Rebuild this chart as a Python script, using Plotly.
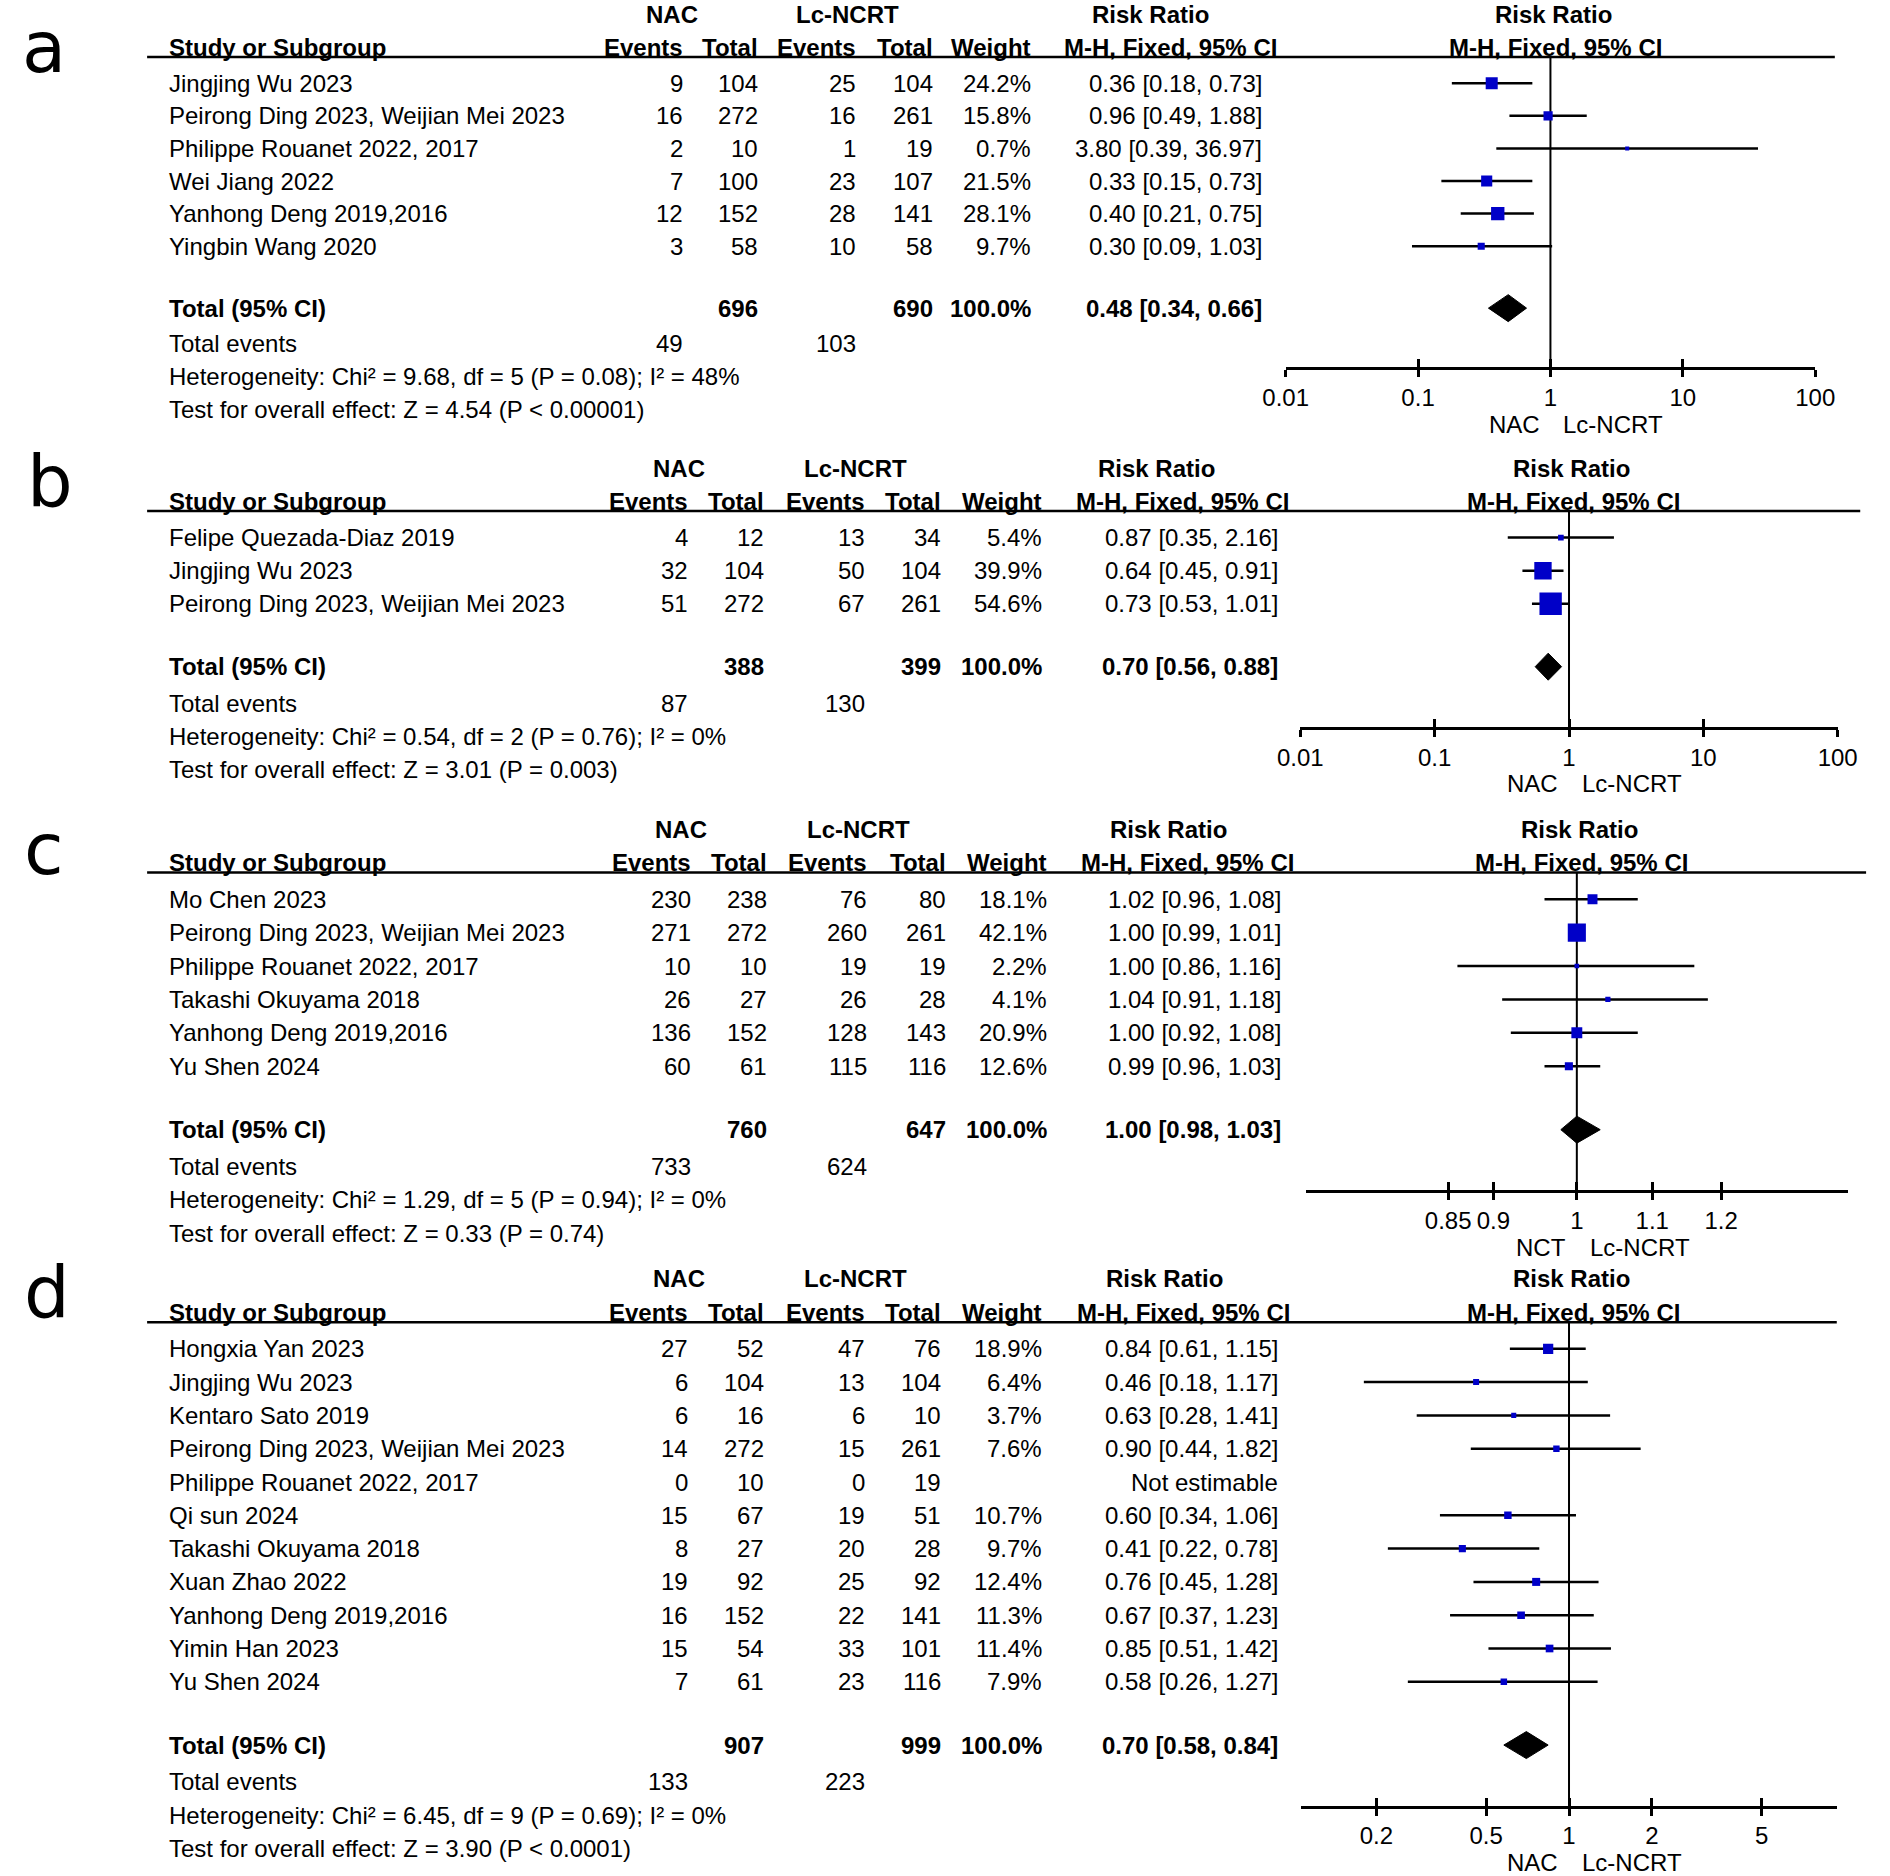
import plotly.graph_objects as go

W, H = 1890, 1876
FONT = "Liberation Sans, Arial, Helvetica, sans-serif"
FS = 24
BLUE = "#0000C8"

# ------------------------------------------------------------------ data
studies_a = ["Jingjing Wu 2023", "Peirong Ding 2023, Weijian Mei 2023",
             "Philippe Rouanet 2022, 2017", "Wei Jiang 2022",
             "Yanhong Deng 2019,2016", "Yingbin Wang 2020"]
nac_events_a = [9, 16, 2, 7, 12, 3]
nac_total_a = [104, 272, 10, 100, 152, 58]
lc_events_a = [25, 16, 1, 23, 28, 10]
lc_total_a = [104, 261, 19, 107, 141, 58]
weight_a = [24.2, 15.8, 0.7, 21.5, 28.1, 9.7]
rr_a = [0.36, 0.96, 3.80, 0.33, 0.40, 0.30]
lo_a = [0.18, 0.49, 0.39, 0.15, 0.21, 0.09]
hi_a = [0.73, 1.88, 36.97, 0.73, 0.75, 1.03]
pooled_a = [0.48, 0.34, 0.66]
het_a = "Heterogeneity: Chi² = 9.68, df = 5 (P = 0.08); I² = 48%"
test_a = "Test for overall effect: Z = 4.54 (P < 0.00001)"
ticks_a = [0.01, 0.1, 1, 10, 100]
ticklabels_a = ["0.01", "0.1", "1", "10", "100"]
favours_a = ["NAC", "Lc-NCRT"]

studies_b = ["Felipe Quezada-Diaz 2019", "Jingjing Wu 2023",
             "Peirong Ding 2023, Weijian Mei 2023"]
nac_events_b = [4, 32, 51]
nac_total_b = [12, 104, 272]
lc_events_b = [13, 50, 67]
lc_total_b = [34, 104, 261]
weight_b = [5.4, 39.9, 54.6]
rr_b = [0.87, 0.64, 0.73]
lo_b = [0.35, 0.45, 0.53]
hi_b = [2.16, 0.91, 1.01]
pooled_b = [0.70, 0.56, 0.88]
het_b = "Heterogeneity: Chi² = 0.54, df = 2 (P = 0.76); I² = 0%"
test_b = "Test for overall effect: Z = 3.01 (P = 0.003)"
ticks_b = [0.01, 0.1, 1, 10, 100]
ticklabels_b = ["0.01", "0.1", "1", "10", "100"]
favours_b = ["NAC", "Lc-NCRT"]

studies_c = ["Mo Chen 2023", "Peirong Ding 2023, Weijian Mei 2023",
             "Philippe Rouanet 2022, 2017", "Takashi Okuyama 2018",
             "Yanhong Deng 2019,2016", "Yu Shen 2024"]
nac_events_c = [230, 271, 10, 26, 136, 60]
nac_total_c = [238, 272, 10, 27, 152, 61]
lc_events_c = [76, 260, 19, 26, 128, 115]
lc_total_c = [80, 261, 19, 28, 143, 116]
weight_c = [18.1, 42.1, 2.2, 4.1, 20.9, 12.6]
rr_c = [1.02, 1.00, 1.00, 1.04, 1.00, 0.99]
lo_c = [0.96, 0.99, 0.86, 0.91, 0.92, 0.96]
hi_c = [1.08, 1.01, 1.16, 1.18, 1.08, 1.03]
pooled_c = [1.00, 0.98, 1.03]
het_c = "Heterogeneity: Chi² = 1.29, df = 5 (P = 0.94); I² = 0%"
test_c = "Test for overall effect: Z = 0.33 (P = 0.74)"
ticks_c = [0.85, 0.9, 1, 1.1, 1.2]
ticklabels_c = ["0.85", "0.9", "1", "1.1", "1.2"]
favours_c = ["NCT", "Lc-NCRT"]

studies_d = ["Hongxia Yan 2023", "Jingjing Wu 2023", "Kentaro Sato 2019",
             "Peirong Ding 2023, Weijian Mei 2023", "Philippe Rouanet 2022, 2017",
             "Qi sun 2024", "Takashi Okuyama 2018", "Xuan Zhao 2022",
             "Yanhong Deng 2019,2016", "Yimin Han 2023", "Yu Shen 2024"]
nac_events_d = [27, 6, 6, 14, 0, 15, 8, 19, 16, 15, 7]
nac_total_d = [52, 104, 16, 272, 10, 67, 27, 92, 152, 54, 61]
lc_events_d = [47, 13, 6, 15, 0, 19, 20, 25, 22, 33, 23]
lc_total_d = [76, 104, 10, 261, 19, 51, 28, 92, 141, 101, 116]
weight_d = [18.9, 6.4, 3.7, 7.6, None, 10.7, 9.7, 12.4, 11.3, 11.4, 7.9]
rr_d = [0.84, 0.46, 0.63, 0.90, None, 0.60, 0.41, 0.76, 0.67, 0.85, 0.58]
lo_d = [0.61, 0.18, 0.28, 0.44, None, 0.34, 0.22, 0.45, 0.37, 0.51, 0.26]
hi_d = [1.15, 1.17, 1.41, 1.82, None, 1.06, 0.78, 1.28, 1.23, 1.42, 1.27]
pooled_d = [0.70, 0.58, 0.84]
het_d = "Heterogeneity: Chi² = 6.45, df = 9 (P = 0.69); I² = 0%"
test_d = "Test for overall effect: Z = 3.90 (P < 0.0001)"
ticks_d = [0.2, 0.5, 1, 2, 5]
ticklabels_d = ["0.2", "0.5", "1", "2", "5"]
favours_d = ["NAC", "Lc-NCRT"]

# ------------------------------------------------------------------ layout (pixels)
panels = [
    dict(letter="a", studies=studies_a, ev1=nac_events_a, tot1=nac_total_a, ev2=lc_events_a,
         tot2=lc_total_a, wt=weight_a, rr=rr_a, lo=lo_a, hi=hi_a, pooled=pooled_a,
         het=het_a, test=test_a, ticks=ticks_a, ticklabels=ticklabels_a, fav=favours_a,
         row0=83.2, sp=32.6, line_end=1854,
         c_ev1=676, c_tot1=753, c_ev2=853, c_tot2=932, c_wt=1033, c_ci=1269,
         h_nac=664, h_lc=844, h_rr=1154, h_mh=1174,
         fdom=(1292, 1834), frange=(-2.0005, 2.0005), letter_xy=(21, 72)),
    dict(letter="b", studies=studies_b, ev1=nac_events_b, tot1=nac_total_b, ev2=lc_events_b,
         tot2=lc_total_b, wt=weight_b, rr=rr_b, lo=lo_b, hi=hi_b, pooled=pooled_b,
         het=het_b, test=test_b, ticks=ticks_b, ticklabels=ticklabels_b, fav=favours_b,
         row0=537.6, sp=33.1, line_end=1880,
         c_ev1=682, c_tot1=759, c_ev2=863, c_tot2=940, c_wt=1044, c_ci=1285,
         h_nac=671, h_lc=852, h_rr=1160, h_mh=1187,
         fdom=(1307, 1857), frange=(-2.0005, 2.0005), letter_xy=(28, 506)),
    dict(letter="c", studies=studies_c, ev1=nac_events_c, tot1=nac_total_c, ev2=lc_events_c,
         tot2=lc_total_c, wt=weight_c, rr=rr_c, lo=lo_c, hi=hi_c, pooled=pooled_c,
         het=het_c, test=test_c, ticks=ticks_c, ticklabels=ticklabels_c, fav=favours_c,
         row0=899.2, sp=33.4, line_end=1886,
         c_ev1=685, c_tot1=762, c_ev2=865, c_tot2=945, c_wt=1049, c_ci=1288,
         h_nac=673, h_lc=855, h_rr=1172, h_mh=1192,
         fdom=(1313, 1867), frange=(-0.1485, 0.1485), letter_xy=(22, 874)),
    dict(letter="d", studies=studies_d, ev1=nac_events_d, tot1=nac_total_d, ev2=lc_events_d,
         tot2=lc_total_d, wt=weight_d, rr=rr_d, lo=lo_d, hi=hi_d, pooled=pooled_d,
         het=het_d, test=test_d, ticks=ticks_d, ticklabels=ticklabels_d, fav=favours_d,
         row0=1348.8, sp=33.3, line_end=1856,
         c_ev1=682, c_tot1=759, c_ev2=863, c_tot2=940, c_wt=1044, c_ci=1285,
         h_nac=671, h_lc=852, h_rr=1168, h_mh=1188,
         fdom=(1308, 1856), frange=(-0.972, 0.972), letter_xy=(25, 1317)),
]

STUDY_X = 148
LINE_X0 = 127
LETTER_FS = 72
LETTER_FONT = "DejaVu Sans, Noto Sans, sans-serif"

fig = go.Figure()
annotations = []
shapes = []
layout_axes = {}


def ann(xpx, ypx, text, anchor="left", bold=False, size=FS, family=FONT):
    annotations.append(dict(
        x=xpx / W, y=1 - ypx / H, xref="paper", yref="paper",
        text=f"<b>{text}</b>" if bold else text, showarrow=False,
        xanchor=anchor, yanchor="middle", borderpad=0,
        font=dict(family=family, size=size, color="black")))


for p, P in enumerate(panels):
    n = len(P["studies"])
    row0, sp = P["row0"], P["sp"]

    def ypx(r):
        return row0 + r * sp

    r_h1, r_h2, r_line = -2.1, -1.1, -0.8
    r_total, r_events, r_het, r_test = n + 0.9, n + 2.0, n + 3.0, n + 4.0
    r_axis = n + 2.72

    # panel letter (positioned by its baseline: box middle sits ~0.35 em above it)
    lx, lb = P["letter_xy"]
    annotations.append(dict(x=lx / W, y=1 - (lb - 0.35 * LETTER_FS) / H,
                            xref="paper", yref="paper",
                            text=P["letter"], showarrow=False,
                            xanchor="center", yanchor="middle", borderpad=0,
                            font=dict(family=LETTER_FONT, size=LETTER_FS, color="black")))

    # headers
    fx1_px = P["fdom"][0] + (0 - P["frange"][0]) / (P["frange"][1] - P["frange"][0]) * (
        P["fdom"][1] - P["fdom"][0])
    ann(P["h_nac"], ypx(r_h1), "NAC", "center", True)
    ann(P["h_lc"], ypx(r_h1), "Lc-NCRT", "center", True)
    ann(P["h_rr"], ypx(r_h1), "Risk Ratio", "center", True)
    ann(fx1_px + 3, ypx(r_h1), "Risk Ratio", "center", True)
    ann(STUDY_X, ypx(r_h2), "Study or Subgroup", "left", True)
    ann(P["c_ev1"], ypx(r_h2), "Events", "right", True)
    ann(P["c_tot1"], ypx(r_h2), "Total", "right", True)
    ann(P["c_ev2"], ypx(r_h2), "Events", "right", True)
    ann(P["c_tot2"], ypx(r_h2), "Total", "right", True)
    ann(P["c_wt"], ypx(r_h2), "Weight", "right", True)
    ann(P["h_mh"], ypx(r_h2), "M-H, Fixed, 95% CI", "center", True)
    ann(fx1_px + 5, ypx(r_h2), "M-H, Fixed, 95% CI", "center", True)
    shapes.append(dict(type="line", xref="paper", yref="paper",
                       x0=LINE_X0 / W, x1=P["line_end"] / W,
                       y0=1 - ypx(r_line) / H, y1=1 - ypx(r_line) / H,
                       line=dict(color="black", width=2.5)))

    # study rows
    for i in range(n):
        y = ypx(i)
        ann(STUDY_X, y, P["studies"][i], "left")
        ann(P["c_ev1"], y, str(P["ev1"][i]), "right")
        ann(P["c_tot1"], y, str(P["tot1"][i]), "right")
        ann(P["c_ev2"], y, str(P["ev2"][i]), "right")
        ann(P["c_tot2"], y, str(P["tot2"][i]), "right")
        if P["wt"][i] is not None:
            ann(P["c_wt"], y, f"{P['wt'][i]:.1f}%", "right")
            ann(P["c_ci"], y, f"{P['rr'][i]:.2f} [{P['lo'][i]:.2f}, {P['hi'][i]:.2f}]", "right")
        else:
            ann(P["c_ci"], y, "Not estimable", "right")

    # totals
    pr, pl, ph = P["pooled"]
    y = ypx(r_total)
    ann(STUDY_X, y, "Total (95% CI)", "left", True)
    ann(P["c_tot1"], y, str(sum(P["tot1"])), "right", True)
    ann(P["c_tot2"], y, str(sum(P["tot2"])), "right", True)
    ann(P["c_wt"], y, "100.0%", "right", True)
    ann(P["c_ci"], y, f"{pr:.2f} [{pl:.2f}, {ph:.2f}]", "right", True)
    y = ypx(r_events)
    ann(STUDY_X, y, "Total events", "left")
    ann(P["c_ev1"], y, str(sum(P["ev1"])), "right")
    ann(P["c_ev2"], y, str(sum(P["ev2"])), "right")
    ann(STUDY_X, ypx(r_het), P["het"], "left")
    ann(STUDY_X, ypx(r_test), P["test"], "left")

    # favours labels under the axis
    ax_px = ypx(r_axis)
    ann(fx1_px - 10, ax_px + 57, P["fav"][0], "right")
    ann(fx1_px + 12, ax_px + 57, P["fav"][1], "left")

    # ---- forest axes
    xa = "x" if p == 0 else f"x{p + 1}"
    ya = "y" if p == 0 else f"y{p + 1}"
    xo = f"x{p + 5}"
    y_top, y_bot = r_line, r_axis
    ydom = [1 - ypx(y_bot) / H, 1 - ypx(y_top) / H]
    xdom = [P["fdom"][0] / W, P["fdom"][1] / W]

    layout_axes["xaxis" if p == 0 else f"xaxis{p + 1}"] = dict(
        type="log", range=list(P["frange"]), domain=xdom, anchor=ya,
        showline=True, linewidth=3, linecolor="black", showgrid=False, zeroline=False,
        ticks="outside", ticklen=7, tickwidth=2.5, tickcolor="black",
        tickmode="array", tickvals=P["ticks"], ticktext=P["ticklabels"],
        tickfont=dict(family=FONT, size=FS, color="black"), ticklabelstandoff=0,
        fixedrange=True)
    layout_axes[f"xaxis{p + 5}"] = dict(
        type="log", range=list(P["frange"]), domain=xdom, anchor=ya, overlaying=xa,
        showline=False, showgrid=False, zeroline=False, showticklabels=False,
        ticks="inside", ticklen=8, tickwidth=2.5, tickcolor="black",
        tickmode="array", tickvals=P["ticks"], fixedrange=True)
    layout_axes["yaxis" if p == 0 else f"yaxis{p + 1}"] = dict(
        domain=ydom, range=[y_bot, y_top], visible=False, showgrid=False,
        zeroline=False, fixedrange=True)

    # line of no effect
    fig.add_trace(go.Scatter(x=[1, 1], y=[y_top, y_bot], mode="lines",
                             line=dict(color="black", width=2), xaxis=xa, yaxis=ya,
                             hoverinfo="skip"))
    # invisible trace to activate overlay axis
    fig.add_trace(go.Scatter(x=[1], y=[0], mode="markers", marker=dict(opacity=0),
                             xaxis=xo, yaxis=ya, hoverinfo="skip"))
    # CI lines
    cx, cy = [], []
    mx, my, ms = [], [], []
    for i in range(n):
        if P["rr"][i] is None:
            continue
        cx += [P["lo"][i], P["hi"][i], None]
        cy += [i, i, None]
        mx.append(P["rr"][i])
        my.append(i)
        ms.append(3.8 + 0.34 * P["wt"][i])
    fig.add_trace(go.Scatter(x=cx, y=cy, mode="lines", line=dict(color="black", width=2.5),
                             xaxis=xa, yaxis=ya, hoverinfo="skip"))
    fig.add_trace(go.Scatter(x=mx, y=my, mode="markers",
                             marker=dict(symbol="square", size=ms, color=BLUE, opacity=1,
                                         line=dict(width=0)),
                             xaxis=xa, yaxis=ya, hoverinfo="skip"))
    # pooled diamond
    hh = 13.5 / sp
    fig.add_trace(go.Scatter(x=[pl, pr, ph, pr, pl],
                             y=[r_total, r_total - hh, r_total, r_total + hh, r_total],
                             mode="lines", fill="toself", fillcolor="black",
                             line=dict(color="black", width=1),
                             xaxis=xa, yaxis=ya, hoverinfo="skip"))

fig.update_layout(
    width=W, height=H, margin=dict(l=0, r=0, t=0, b=0),
    paper_bgcolor="white", plot_bgcolor="rgba(0,0,0,0)", showlegend=False,
    annotations=annotations, shapes=shapes, **layout_axes)

fig.write_html("out.html", config={"displayModeBar": False},
               post_script="document.body.style.margin='0';"
                           "document.body.style.overflow='hidden';")
